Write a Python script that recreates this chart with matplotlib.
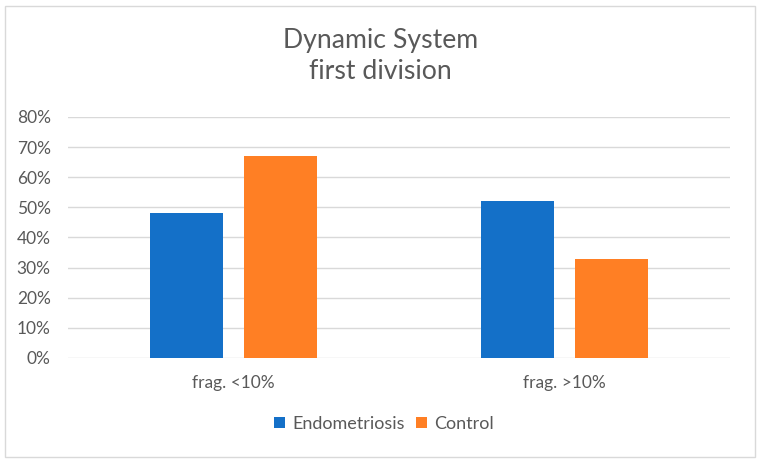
import numpy as np
import matplotlib
matplotlib.use("Agg")
import matplotlib.pyplot as plt
from matplotlib.patches import Rectangle
from matplotlib.ticker import PercentFormatter

categories = ["frag. <10%", "frag. >10%"]
endometriosis = [0.48, 0.52]
control = [0.67, 0.33]
y_ticks = [0.0, 0.1, 0.2, 0.3, 0.4, 0.5, 0.6, 0.7, 0.8]

BLUE = "#1470C8"
ORANGE = "#FF7F24"
TEXT = "#595959"
GRID = "#D9D9D9"

plt.rcParams["font.family"] = ["Lato", "DejaVu Sans"]

fig = plt.figure(figsize=(7.61, 4.62), dpi=100)
ax = fig.add_axes([68 / 761, 104 / 462, 662 / 761, 241 / 462])

# light frame around the whole chart
fig.patches.append(Rectangle((5 / 761, 5 / 462), 750 / 761, 451 / 462,
                             transform=fig.transFigure, fill=False,
                             edgecolor=GRID, linewidth=1))

x = np.arange(len(categories))
w = 0.22
off = 0.142
ax.bar(x - off, endometriosis, w, color=BLUE, label="Endometriosis", zorder=3)
ax.bar(x + off, control, w, color=ORANGE, label="Control", zorder=3)

ax.set_xlim(-0.5, 1.5)
ax.set_ylim(0, 0.8)
ax.set_yticks(y_ticks)
ax.yaxis.set_major_formatter(PercentFormatter(1.0, decimals=0))
ax.set_xticks(x)
ax.set_xticklabels(categories)
ax.tick_params(axis="both", length=0, colors=TEXT, labelsize=12.5)
ax.tick_params(axis="y", pad=12.5)
ax.tick_params(axis="x", pad=12)
ax.grid(axis="y", color=GRID, linewidth=1, zorder=0)
for s in ax.spines.values():
    s.set_visible(False)

fig.text(0.5, 0.879, "Dynamic System\nfirst division", ha="center", va="center",
         fontsize=19.2, color=TEXT, linespacing=1.28)

fig.legend(loc="center", bbox_to_anchor=(384 / 761, 1 - 424 / 462), ncol=2,
           frameon=False, fontsize=13, labelcolor=TEXT, handlelength=0.6,
           handleheight=0.6, handletextpad=0.4, columnspacing=0.6)

fig.savefig("out.png", dpi=100, facecolor="white")
